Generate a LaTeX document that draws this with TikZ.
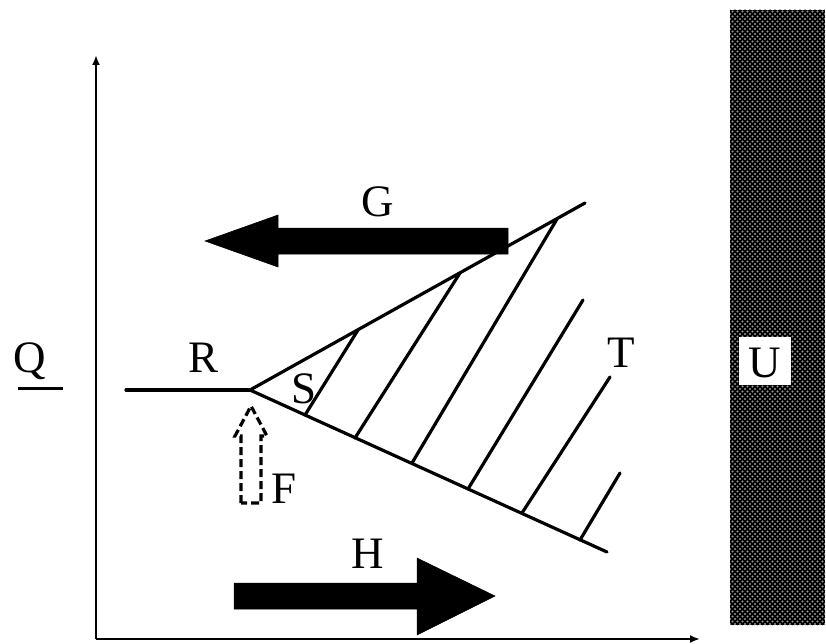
\documentclass[tikz,border=0pt]{standalone}
\usepackage{fontspec}
\setmainfont{Liberation Serif}
\usetikzlibrary{arrows.meta,patterns}
\pgfdeclarepatternformonly{udots}{\pgfqpoint{-1.2pt}{-1.2pt}}{\pgfqpoint{4.2pt}{4.2pt}}{\pgfqpoint{5pt}{5pt}}{%
  \pgfpathcircle{\pgfqpoint{0pt}{0pt}}{1.1pt}%
  \pgfpathcircle{\pgfqpoint{2.5pt}{2.5pt}}{1.1pt}%
  \pgfusepath{fill}}
\begin{document}
\begin{tikzpicture}[x=1pt,y=-1pt,
  lbl/.style={font=\fontsize{45}{50}\selectfont, inner sep=0pt, anchor=base},
  mainline/.style={line width=3.2pt, line cap=round},
  axisline/.style={line width=2.6pt, -{Latex[length=10pt,width=8pt]}},
  bigarrow/.style={fill=black, draw=black, line width=0.5pt},
  dasharrow/.style={draw=black, line width=3.2pt, dash pattern=on 8pt off 4pt}]
\useasboundingbox (0,0) rectangle (826,644);
% axes
\coordinate (O) at (96,639);
\coordinate (Ytop) at (96,55);
\coordinate (Xend) at (700,639);
\draw[axisline] (O) -- (Ytop);
\draw[axisline] (O) -- (Xend);
% wedge
\coordinate (Rstart) at (126,390);
\coordinate (apex) at (250,390);
\coordinate (upEnd) at (585,203);
\coordinate (lowEnd) at (607,552);
\draw[mainline] (Rstart) -- (apex);
\draw[mainline] (apex) -- (upEnd);
\draw[mainline] (apex) -- (lowEnd);
% hatch lines
\coordinate (h1a) at (305,415); \coordinate (h1b) at (358,330);
\coordinate (h2a) at (355,438); \coordinate (h2b) at (460,273);
\coordinate (h3a) at (412,463); \coordinate (h3b) at (557,219);
\coordinate (h4a) at (468,489); \coordinate (h4b) at (583,300);
\coordinate (h5a) at (522,513); \coordinate (h5b) at (610,377);
\coordinate (h6a) at (580,540); \coordinate (h6b) at (620,473);
\foreach \i in {1,...,6}{\draw[mainline] (h\i a) -- (h\i b);}
% G arrow (left)
\draw[bigarrow] (508,228) -- (278,228) -- (278,215) -- (205,241) -- (278,267) -- (278,254) -- (508,254) -- cycle;
% H arrow (right)
\draw[bigarrow] (234,583) -- (417,583) -- (417,558) -- (495,596) -- (417,635) -- (417,609) -- (234,609) -- cycle;
% F dashed hollow arrow
\draw[dasharrow] (241,503) -- (241,436) -- (235,436) -- (251,406) -- (267,436) -- (261,436) -- (261,503) -- cycle;
% U bar
\fill[black] (730,10) rectangle (825,625);
\fill[pattern=udots, pattern color=gray!80] (730,10) rectangle (825,625);
\fill[white] (739,337) rectangle (791,385);
% labels
\node[lbl] (Q) at (30,372) {Q};
\coordinate (qa) at (18,388); \coordinate (qb) at (63,388);
\draw[line width=3pt] (qa) -- (qb);
\node[lbl] (R) at (204,372) {R};
\node[lbl] (S) at (304,403) {S};
\node[lbl] (F) at (284,503) {F};
\node[lbl] (T) at (621,367) {T};
\node[lbl] (G) at (378,216) {G};
\node[lbl] (H) at (368,568) {H};
\node[lbl] (U) at (765,377) {U};
\end{tikzpicture}
\end{document}
